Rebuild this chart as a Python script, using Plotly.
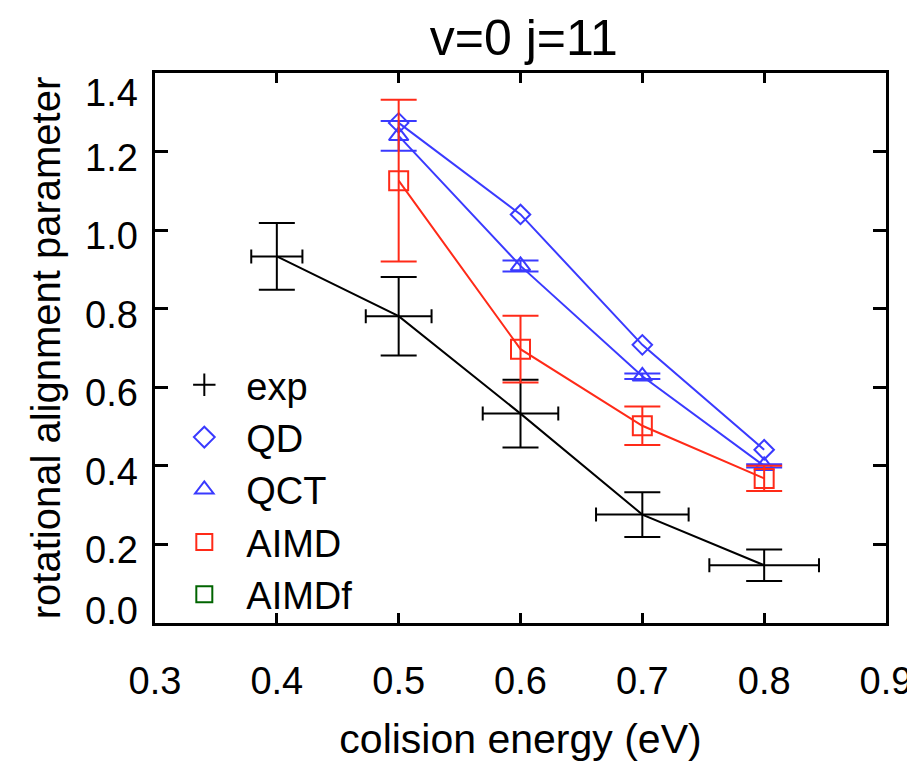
import plotly.graph_objects as go

# ---------------- data ----------------
title_text = "v=0 j=11"
x_title = "colision energy (eV)"
y_title = "rotational alignment parameter"

exp_x = [0.4, 0.5, 0.6, 0.7, 0.8]
exp_y = [0.933, 0.781, 0.533, 0.276, 0.147]
exp_yerr = [0.085, 0.100, 0.086, 0.057, 0.040]
exp_xerr = [0.021, 0.027, 0.031, 0.038, 0.045]

qd_x = [0.5, 0.6, 0.7, 0.8]
qd_y = [1.273, 1.040, 0.708, 0.441]

qct_x = [0.5, 0.6, 0.7, 0.8]
qct_y = [1.240, 0.909, 0.628, 0.400]
qct_err = [0.038, 0.014, 0.007, 0.004]

aimd_x = [0.5, 0.6, 0.7, 0.8]
aimd_y = [1.126, 0.697, 0.502, 0.368]
aimd_err = [0.206, 0.085, 0.049, 0.032]

x_tick_vals = [0.3, 0.4, 0.5, 0.6, 0.7, 0.8, 0.9]
x_tick_labels = ["0.3", "0.4", "0.5", "0.6", "0.7", "0.8", "0.9"]
y_tick_vals = [0.0, 0.2, 0.4, 0.6, 0.8, 1.0, 1.2, 1.4]
y_tick_labels = ["0.0", "0.2", "0.4", "0.6", "0.8", "1.0", "1.2", "1.4"]

legend_names = ["exp", "QD", "QCT", "AIMD", "AIMDf"]

# ---------------- style ----------------
BLACK = "#000000"
BLUE = "#3a3aff"
RED = "#ff2a18"
GREEN = "#006400"
FONT = "Liberation Sans, Arial, Helvetica, sans-serif"

fig = go.Figure()

# exp
fig.add_trace(go.Scatter(
    x=exp_x, y=exp_y, mode="lines", showlegend=False,
    line=dict(color=BLACK, width=2),
    error_y=dict(type="data", array=exp_yerr, color=BLACK, thickness=2, width=18),
    error_x=dict(type="data", array=exp_xerr, color=BLACK, thickness=2, width=7),
))
# QD
fig.add_trace(go.Scatter(
    x=qd_x, y=qd_y, mode="lines+markers", showlegend=False,
    line=dict(color=BLUE, width=2),
    marker=dict(symbol="diamond-open", size=15, color=BLUE, line=dict(width=2, color=BLUE)),
))
# QCT
fig.add_trace(go.Scatter(
    x=qct_x, y=qct_y, mode="lines+markers", showlegend=False,
    line=dict(color=BLUE, width=2),
    marker=dict(symbol="triangle-up-open", size=17, color=BLUE, line=dict(width=2, color=BLUE)),
    error_y=dict(type="data", array=qct_err, color=BLUE, thickness=2, width=18),
))
# AIMD
fig.add_trace(go.Scatter(
    x=aimd_x, y=aimd_y, mode="lines+markers", showlegend=False,
    line=dict(color=RED, width=2),
    marker=dict(symbol="square-open", size=19, color=RED, line=dict(width=2, color=RED)),
    error_y=dict(type="data", array=aimd_err, color=RED, thickness=2, width=18),
))

# legend-only entries (symbols only, like the reference)
legend_styles = [
    dict(symbol="cross-thin-open", size=32, color=BLACK),
    dict(symbol="diamond-open", size=16, color=BLUE),
    dict(symbol="triangle-up-open", size=17, color=BLUE),
    dict(symbol="square-open", size=17, color=RED),
    dict(symbol="square-open", size=17, color=GREEN),
]
for name, st in zip(legend_names, legend_styles):
    fig.add_trace(go.Scatter(
        x=[None], y=[None], mode="markers", name=name,
        marker=dict(symbol=st["symbol"], size=st["size"], color=st["color"],
                    line=dict(width=2, color=st["color"])),
    ))

# y tick labels as text (end labels pulled inside the frame, as in the reference)
annotations = []
n = len(y_tick_vals)
for i, (v, lab) in enumerate(zip(y_tick_vals, y_tick_labels)):
    if i == 0:
        ys = 12
    elif i == n - 1:
        ys = -20
    else:
        ys = -6
    annotations.append(dict(
        x=0, xref="paper", y=v, yref="y", text=lab, showarrow=False,
        xanchor="right", yanchor="middle", xshift=-15, yshift=ys,
        font=dict(family=FONT, size=38, color=BLACK),
    ))

# page body adds an 8px offset, so the figure is 8px smaller and margins shifted
fig.update_layout(
    width=907, height=756,
    paper_bgcolor="white", plot_bgcolor="white",
    margin=dict(l=147, r=29, t=65, b=141, autoexpand=False),
    title=dict(text=title_text, x=0.5687, xanchor="center", y=0.961, yanchor="middle",
               font=dict(family=FONT, size=50, color=BLACK)),
    font=dict(family=FONT, color=BLACK),
    showlegend=True,
    legend=dict(
        x=0.010, y=0.49, xanchor="left", yanchor="top",
        bgcolor="rgba(0,0,0,0)", borderwidth=0,
        font=dict(family=FONT, size=38, color=BLACK),
        itemwidth=74, tracegroupgap=0,
    ),
    annotations=annotations,
)

fig.update_xaxes(
    range=[0.3, 0.9], tickvals=x_tick_vals, ticktext=x_tick_labels,
    ticks="inside", ticklen=10, tickwidth=3, tickcolor=BLACK,
    showline=True, linewidth=3, linecolor=BLACK, mirror="ticks",
    showgrid=False, zeroline=False, automargin=False,
    tickfont=dict(family=FONT, size=38, color=BLACK),
    ticklabelstandoff=22,
    title=dict(text=x_title, font=dict(family=FONT, size=41, color=BLACK), standoff=24),
)
fig.update_yaxes(
    range=[0.0, 1.4], tickvals=y_tick_vals, showticklabels=False,
    ticks="inside", ticklen=13, tickwidth=3, tickcolor=BLACK,
    showline=True, linewidth=3, linecolor=BLACK, mirror="ticks",
    showgrid=False, zeroline=False, automargin=False,
    title=dict(text=y_title, font=dict(family=FONT, size=40, color=BLACK), standoff=80),
)

fig.write_html("out.html")
